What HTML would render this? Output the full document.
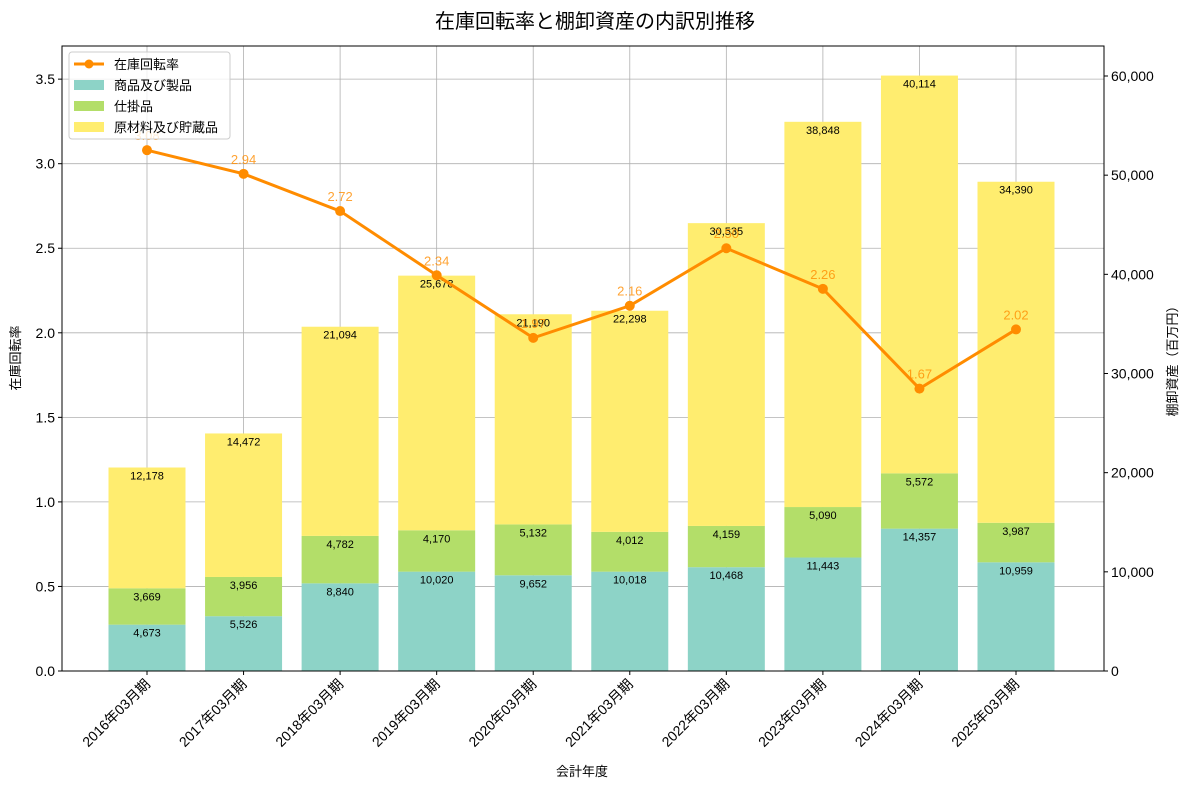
<!DOCTYPE html>
<html><head><meta charset="utf-8">
<style>
body{margin:0;background:#fff;}
svg text{font-family:"Liberation Sans","Noto Sans CJK JP",sans-serif;}
</style></head>
<body>
<svg id="chart" width="1189" height="789" xmlns="http://www.w3.org/2000/svg">
<text x="595" y="28" text-anchor="middle" font-size="20" fill="#000">在庫回転率と棚卸資産の内訳別推移</text>
<g id="grid"></g><g id="bars"></g><g id="line"></g><g id="axes"></g>
<g>
<rect x="69" y="52" width="161" height="87" fill="#fff" fill-opacity="0.8" stroke="#ccc" rx="3"/>
<line x1="74" y1="64" x2="104" y2="64" stroke="#ff8c00" stroke-width="3"/><circle cx="89" cy="64" r="4.5" fill="#ff8c00"/>
<text x="114" y="69" font-size="13">在庫回転率</text>
<rect x="74" y="80" width="30" height="10" fill="#8dd3c7"/><text x="114" y="90" font-size="13">商品及び製品</text>
<rect x="74" y="101" width="30" height="10" fill="#b3de69"/><text x="114" y="111" font-size="13">仕掛品</text>
<rect x="74" y="122" width="30" height="10" fill="#ffed6f"/><text x="114" y="132" font-size="13">原材料及び貯蔵品</text>
</g>
</svg>
<script>
const categories=["2016年03月期","2017年03月期","2018年03月期","2019年03月期","2020年03月期","2021年03月期","2022年03月期","2023年03月期","2024年03月期","2025年03月期"];
const goods=[4673,5526,8840,10020,9652,10018,10468,11443,14357,10959];
const wip=[3669,3956,4782,4170,5132,4012,4159,5090,5572,3987];
const raw=[12178,14472,21094,25678,21190,22298,30535,38848,40114,34390];
const ratio=[3.08,2.94,2.72,2.34,1.97,2.16,2.50,2.26,1.67,2.02];
const leftTicks=[0,0.5,1.0,1.5,2.0,2.5,3.0,3.5];
const rightTicks=[0,10000,20000,30000,40000,50000,60000];

const NS="http://www.w3.org/2000/svg";
const L=62,R=1104,T=46,B=671;
const xs=i=>147+(i)*(1016-147)/9;
const yL=v=>B-v*(B-T)/3.696;
const yR=v=>B-v*(B-T)/63025;
function mk(p,tag,at,txt){const e=document.createElementNS(NS,tag);for(const k in at)e.setAttribute(k,at[k]);if(txt!==undefined)e.textContent=txt;document.getElementById(p).appendChild(e);return e;}
const fmt=v=>v.toLocaleString("en-US");
// grid
leftTicks.forEach(t=>{const e=mk("grid","line",{x1:L,x2:R,y1:yL(t),y2:yL(t),stroke:"#b0b0b0","stroke-width":0.8});

});
categories.forEach((c,i)=>{const e=mk("grid","line",{x1:xs(i),x2:xs(i),y1:T,y2:B,stroke:"#b0b0b0","stroke-width":0.8});

});
// bars
const series=[[goods,"#8dd3c7","bar-goods"],[wip,"#b3de69","bar-wip"],[raw,"#ffed6f","bar-raw"]];
categories.forEach((c,i)=>{let base=0;series.forEach(([arr,col,nm])=>{const v=arr[i];const top=base+v;
const r=mk("bars","rect",{x:xs(i)-38.5,width:77,y:yR(top),height:yR(base)-yR(top),fill:col});


const t=mk("bars","text",{x:xs(i),y:yR(top)+12,"text-anchor":"middle","font-size":11,fill:"#000"},fmt(v));


base=top;});});
// line
const pl=mk("line","polyline",{points:ratio.map((v,i)=>xs(i)+","+yL(v)).join(" "),fill:"none",stroke:"#ff8c00","stroke-width":3});


ratio.forEach((v,i)=>{const c=mk("line","circle",{cx:xs(i),cy:yL(v),r:5,fill:"#ff8c00"});


const t=mk("line","text",{x:xs(i),y:yL(v)-10,"text-anchor":"middle","font-size":13,fill:"#ff8c00","fill-opacity":0.8},v.toFixed(2));

});
// axes
const fr=mk("axes","rect",{x:L,y:T,width:R-L,height:B-T,fill:"none",stroke:"#000","stroke-width":1});


leftTicks.forEach(t=>{mk("axes","line",{x1:L-4,x2:L,y1:yL(t),y2:yL(t),stroke:"#000"});
const e=mk("axes","text",{x:L-7,y:yL(t)+5,"text-anchor":"end","font-size":14},t.toFixed(1));

});
rightTicks.forEach(t=>{mk("axes","line",{x1:R,x2:R+4,y1:yR(t),y2:yR(t),stroke:"#000"});
const e=mk("axes","text",{x:R+7,y:yR(t)+5,"text-anchor":"start","font-size":14},fmt(t));

});
categories.forEach((c,i)=>{mk("axes","line",{x1:xs(i),x2:xs(i),y1:B,y2:B+4,stroke:"#000"});
const e=mk("axes","text",{x:xs(i)+4,y:B+14,"text-anchor":"end","font-size":14,transform:`rotate(-45 ${xs(i)+4} ${B+14})`},c);

});
let e=mk("axes","text",{x:582,y:776,"text-anchor":"middle","font-size":13},"会計年度");


e=mk("axes","text",{x:20,y:358,"text-anchor":"middle","font-size":13,transform:"rotate(-90 20 358)"},"在庫回転率");


e=mk("axes","text",{x:1177,y:358,"text-anchor":"middle","font-size":13,transform:"rotate(-90 1177 358)"},"棚卸資産（百万円）");


</script>
</body></html>
